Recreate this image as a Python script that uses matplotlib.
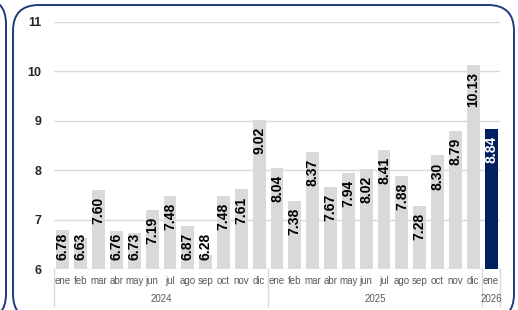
import matplotlib.pyplot as plt
import matplotlib.transforms as mtransforms
from matplotlib.patches import FancyBboxPatch
import numpy as np

plt.rcParams['font.family'] = ['Liberation Sans', 'DejaVu Sans']

months = ["ene", "feb", "mar", "abr", "may", "jun", "jul", "ago", "sep", "oct", "nov", "dic",
          "ene", "feb", "mar", "abr", "may", "jun", "jul", "ago", "sep", "oct", "nov", "dic",
          "ene"]
values = [6.78, 6.63, 7.60, 6.76, 6.73, 7.19, 7.48, 6.87, 6.28, 7.48, 7.61, 9.02,
          8.04, 7.38, 8.37, 7.67, 7.94, 8.02, 8.41, 7.88, 7.28, 8.30, 8.79, 10.13,
          8.84]
years = ["2024", "2025", "2026"]
year_counts = [12, 12, 1]

W, H = 518, 310
fig = plt.figure(figsize=(W / 100, H / 100), dpi=100)

# panel borders (main one and the edge of the neighbouring panel)
border = "#1f3b7a"
fig.patches.append(FancyBboxPatch((13 / W, -10 / H), (514 - 13) / W, (305 + 10) / H,
                                  boxstyle="round,pad=0,rounding_size=0.05",
                                  transform=fig.transFigure, fill=False,
                                  edgecolor=border, linewidth=1.4, mutation_aspect=W / H))
fig.patches.append(FancyBboxPatch((-60 / W, -10 / H), 66 / W, (312 + 10) / H,
                                  boxstyle="round,pad=0,rounding_size=0.05",
                                  transform=fig.transFigure, fill=False,
                                  edgecolor=border, linewidth=1.4, mutation_aspect=W / H))

ax = fig.add_axes([54 / W, 1 - 269 / H, (500 - 54) / W, (269 - 22) / H])
x = np.arange(len(values))
colors = ["#d9d9d9"] * (len(values) - 1) + ["#002060"]
ax.bar(x, np.array(values) - 6, bottom=6, width=0.72, color=colors, zorder=3)

ax.set_ylim(6, 11)
ax.set_xlim(-0.5, len(values) - 0.5)
ax.set_yticks([6, 7, 8, 9, 10, 11])
ax.yaxis.grid(True, color="#d9d9d9", linewidth=1.0, zorder=0)
for s in ax.spines.values():
    s.set_visible(False)
ax.tick_params(axis="y", length=0, pad=9, labelsize=9, labelcolor="#262626")
for t in ax.get_yticklabels():
    t.set_fontweight("bold")
ax.set_xticks(x)
ax.set_xticklabels(months, fontsize=7, color="#595959")
ax.tick_params(axis="x", length=0, pad=5)

# value labels inside the top of each bar, kept above the axis floor
px = 247 / 5.0
lab_len = 28 / px
floor = 6 + 9 / px
for xi, v, c in zip(x, values, colors):
    tc = "white" if c == "#002060" else "black"
    top = v - 7 / px
    if top - lab_len < floor:
        y, va = floor, "bottom"
    else:
        y, va = top, "top"
    ax.text(xi, y, f"{v:.2f}", rotation=90, ha="center", va=va, fontsize=10,
            fontweight="bold", color=tc, zorder=4)

# year groups below the month labels
trans = mtransforms.blended_transform_factory(ax.transData, ax.transAxes)
sep_color = "#d9d9d9"
start = -0.5
edges = [start]
for yr, n in zip(years, year_counts):
    mid = start + n / 2
    ax.text(mid, -0.122, yr, transform=trans, ha="center", va="center",
            fontsize=7, color="#595959")
    start += n
    edges.append(start)
for e in edges:
    ax.plot([e, e], [0, -0.148], transform=trans, color=sep_color, linewidth=1.0,
            clip_on=False)

fig.savefig("out.png", dpi=100)
